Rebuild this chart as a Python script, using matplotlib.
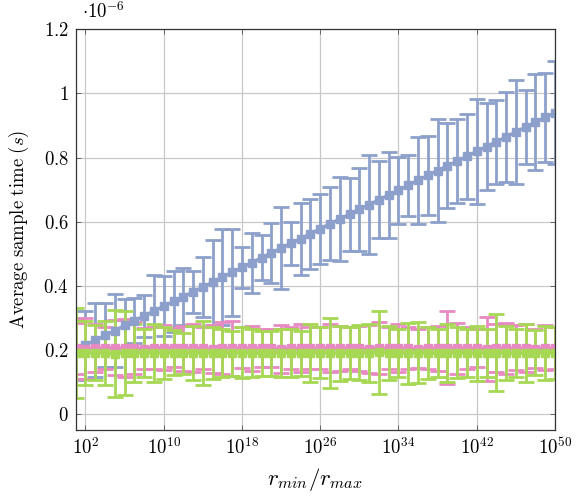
import matplotlib
matplotlib.use("Agg")
import matplotlib.pyplot as plt
import numpy as np

plt.rcParams['mathtext.fontset'] = 'cm'
plt.rcParams['font.family'] = ['DejaVu Serif']

# exponent k of x = 10^k
exponents = list(range(1, 51))

# values in units of 1e-6 s
blue_mean = [0.200, 0.215, 0.230, 0.245, 0.260, 0.276, 0.291, 0.306, 0.321, 0.336,
             0.351, 0.366, 0.381, 0.396, 0.411, 0.427, 0.442, 0.457, 0.472, 0.487,
             0.502, 0.517, 0.532, 0.547, 0.562, 0.578, 0.593, 0.608, 0.623, 0.638,
             0.653, 0.668, 0.683, 0.698, 0.713, 0.729, 0.744, 0.759, 0.774, 0.789,
             0.804, 0.819, 0.834, 0.849, 0.864, 0.880, 0.895, 0.910, 0.925, 0.940]
blue_err = [0.095, 0.107, 0.115, 0.100, 0.114, 0.083, 0.071, 0.065, 0.113, 0.093,
            0.096, 0.089, 0.066, 0.094, 0.132, 0.151, 0.135, 0.065, 0.094, 0.070,
            0.094, 0.128, 0.068, 0.112, 0.110, 0.109, 0.114, 0.130, 0.114, 0.130,
            0.155, 0.120, 0.133, 0.105, 0.094, 0.136, 0.124, 0.160, 0.133, 0.130,
            0.133, 0.165, 0.135, 0.131, 0.140, 0.162, 0.115, 0.150, 0.140, 0.160]

pink_mean = [0.205, 0.204, 0.206, 0.205, 0.207, 0.205, 0.206, 0.204, 0.205, 0.206,
             0.207, 0.205, 0.206, 0.205, 0.204, 0.206, 0.205, 0.207, 0.205, 0.206,
             0.205, 0.204, 0.206, 0.205, 0.206, 0.205, 0.207, 0.205, 0.206, 0.205,
             0.204, 0.206, 0.205, 0.206, 0.205, 0.204, 0.206, 0.205, 0.207, 0.205,
             0.206, 0.205, 0.204, 0.206, 0.205, 0.206, 0.205, 0.204, 0.206, 0.205]
pink_err = [0.080, 0.095, 0.075, 0.065, 0.085, 0.090, 0.080, 0.065, 0.065, 0.070,
            0.060, 0.070, 0.075, 0.065, 0.075, 0.080, 0.085, 0.065, 0.070, 0.060,
            0.060, 0.075, 0.065, 0.075, 0.065, 0.065, 0.075, 0.070, 0.065, 0.070,
            0.075, 0.080, 0.065, 0.075, 0.065, 0.060, 0.065, 0.070, 0.115, 0.080,
            0.065, 0.060, 0.100, 0.075, 0.080, 0.070, 0.075, 0.060, 0.070, 0.065]

green_mean = [0.190, 0.189, 0.191, 0.190, 0.188, 0.190, 0.191, 0.189, 0.190, 0.190,
              0.191, 0.189, 0.190, 0.191, 0.190, 0.189, 0.190, 0.191, 0.190, 0.189,
              0.190, 0.191, 0.190, 0.189, 0.190, 0.191, 0.190, 0.189, 0.190, 0.191,
              0.190, 0.192, 0.190, 0.189, 0.190, 0.191, 0.190, 0.189, 0.190, 0.191,
              0.190, 0.189, 0.190, 0.191, 0.190, 0.189, 0.190, 0.191, 0.190, 0.190]
green_err = [0.140, 0.100, 0.085, 0.100, 0.135, 0.130, 0.090, 0.075, 0.090, 0.080,
             0.070, 0.065, 0.085, 0.100, 0.080, 0.075, 0.070, 0.080, 0.075, 0.070,
             0.070, 0.075, 0.075, 0.070, 0.090, 0.080, 0.110, 0.085, 0.080, 0.085,
             0.090, 0.130, 0.085, 0.075, 0.095, 0.095, 0.080, 0.075, 0.090, 0.080,
             0.075, 0.085, 0.075, 0.120, 0.085, 0.075, 0.090, 0.070, 0.085, 0.080]

x_tick_exps = [2, 10, 18, 26, 34, 42, 50]
y_ticks = [0, 0.2, 0.4, 0.6, 0.8, 1.0, 1.2]
y_tick_labels = ['0', '0.2', '0.4', '0.6', '0.8', '1', '1.2']

BLUE = '#8da0cb'
PINK = '#e78ac3'
GREEN = '#a6d854'

fig = plt.figure(figsize=(5.81, 4.96), dpi=100)
ax = fig.add_axes([75.7 / 581, 1 - 430 / 496, (555 - 75.7) / 581, (430 - 29.3) / 496])

x = [10.0 ** k for k in exponents]
for mean, err, col in [(blue_mean, blue_err, BLUE), (pink_mean, pink_err, PINK),
                       (green_mean, green_err, GREEN)]:
    ax.errorbar(x, mean, yerr=err, color=col, ecolor=col, marker='s', markersize=6.3,
                markerfacecolor=col, markeredgecolor=col,
                linewidth=2.4, elinewidth=2.0, capsize=5.6, capthick=2.0,
                clip_on=True)

ax.set_xscale('log')
ax.set_xlim(1e1, 1e50)
ax.set_ylim(-0.05, 1.2)
ax.set_xticks([10.0 ** e for e in x_tick_exps])
ax.set_xticklabels([r'$10^{%d}$' % e for e in x_tick_exps])
ax.xaxis.set_minor_locator(matplotlib.ticker.NullLocator())
ax.set_yticks(y_ticks)
ax.set_yticklabels([r'$%s$' % t for t in y_tick_labels])

ax.grid(True, color='#c8c8c8', linewidth=0.9)
ax.set_axisbelow(True)
ax.tick_params(direction='in', length=3.5, width=0.6, labelsize=13.5,
               top=True, right=True, color='#555555', pad=5)
for s in ax.spines.values():
    s.set_linewidth(0.9)
    s.set_color('#333333')

ax.set_xlabel(r'$r_{min}/r_{max}$', fontsize=16.5, labelpad=6)
ax.set_ylabel(r'$\mathrm{Average\ sample\ time\ (}s\mathrm{)}$', fontsize=13.5, labelpad=9)
fig.text(82 / 581, 1 - 18 / 496, r'$\cdot 10^{-6}$', fontsize=13.5, ha='left', va='baseline')

fig.savefig('out.png', dpi=100)
